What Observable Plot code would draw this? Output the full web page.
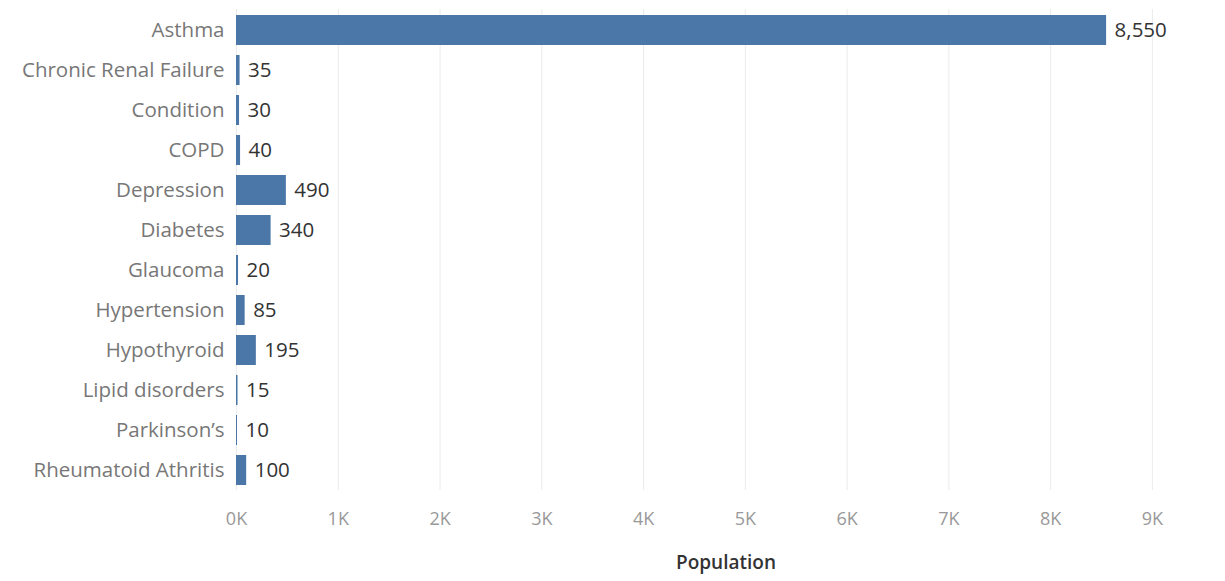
<!DOCTYPE html>
<html>
<head>
<meta charset="utf-8">
<script src="https://cdn.jsdelivr.net/npm/d3@7"></script>
<script src="https://cdn.jsdelivr.net/npm/@observablehq/plot@0.6"></script>
<style>
  html, body { margin: 0; padding: 0; background: #fff; }
  #chart svg { display: block; }
</style>
</head>
<body>
<div id="chart"></div>
<script>
const conditions = ["Asthma", "Chronic Renal Failure", "Condition", "COPD", "Depression", "Diabetes", "Glaucoma", "Hypertension", "Hypothyroid", "Lipid disorders", "Parkinson\u2019s", "Rheumatoid Athritis"];
const population = [8550, 35, 30, 40, 490, 340, 20, 85, 195, 15, 10, 100];
const xTicks = [0, 1000, 2000, 3000, 4000, 5000, 6000, 7000, 8000, 9000];

const data = conditions.map((c, i) => ({condition: c, population: population[i]}));
const fmt = d3.format(",");
const kFmt = d => (d / 1000) + "K";

const chart = Plot.plot({
  width: 1225,
  height: 581,
  marginTop: 9,
  marginLeft: 236,
  marginRight: 10,
  marginBottom: 91,
  style: {fontFamily: "'Open Sans', 'Noto Sans', sans-serif", fontSize: "18px", background: "#fff"},
  x: {domain: [0, 9620], ticks: xTicks, tickFormat: kFmt, label: null},
  y: {domain: conditions, paddingInner: 0.25, paddingOuter: 0.125, label: null},
  marks: [
    Plot.gridX(xTicks, {stroke: "#ebebeb", strokeOpacity: 1}),
    Plot.ruleY([0], {frameAnchor: "bottom", stroke: "#ebebeb", strokeOpacity: 1}),
    Plot.barX(data, {x: "population", y: "condition", fill: "#4a77a8"}),
    Plot.text(data, {x: "population", y: "condition", text: d => fmt(d.population), textAnchor: "start", dx: 8, fill: "#333", fontSize: 20.5}),
    Plot.axisY({tickSize: 0, tickPadding: 12, fill: "#777", fontSize: 20.5}),
    Plot.axisX(xTicks, {tickSize: 0, tickPadding: 22, tickFormat: kFmt, fill: "#999", fontSize: 18, label: null}),
    Plot.text(["Population"], {frameAnchor: "bottom", dy: 78, fill: "#333", fontSize: 19, fontWeight: 600})
  ]
});
document.getElementById("chart").appendChild(chart);
</script>
</body>
</html>
